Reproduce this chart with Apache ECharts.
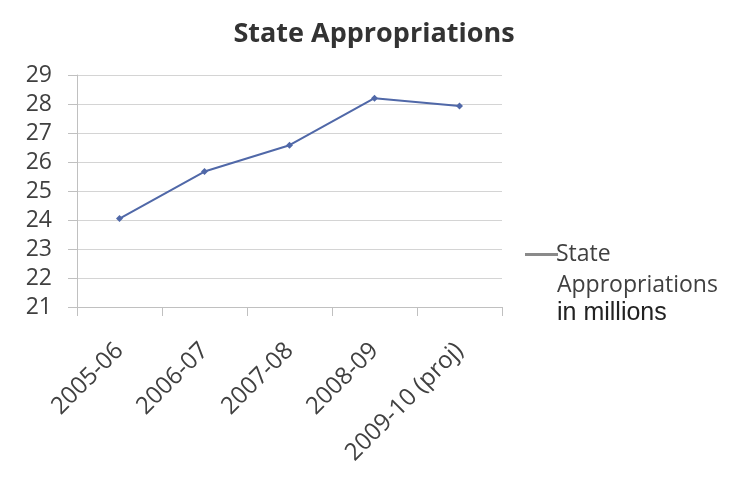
<!DOCTYPE html>
<html><head><meta charset="utf-8">
<script src="https://cdn.jsdelivr.net/npm/echarts@6/dist/echarts.min.js"></script>
<style>html,body{margin:0;padding:0;background:#fff}#c{width:736px;height:477px}</style>
</head><body><div id="c"></div>
<script>
const categories = ['2005-06', '2006-07', '2007-08', '2008-09', '2009-10 (proj)'];
const values = [24.05, 25.67, 26.58, 28.2, 27.93];
const seriesName = 'State Appropriations in millions';
const yTicks = [21, 29, 1];

const FONT = 'Open Sans';
const chart = echarts.init(document.getElementById('c'));
chart.setOption({
  animation: false,
  backgroundColor: '#ffffff',
  title: {
    text: 'State Appropriations',
    left: 369, top: 16, textAlign: 'center',
    textStyle: {fontFamily: FONT, fontWeight: 'bold', fontSize: 27, color: '#333333'}
  },
  grid: {left: 77, right: 234, top: 75, bottom: 170},
  legend: {
    data: [seriesName],
    left: 520, top: 238,
    itemWidth: 33, itemHeight: 20, itemGap: 0,
    icon: 'path://M0,9 L33,9 L33,12 L0,12 Z',
    itemStyle: {color: '#8a8a8a'},
    formatter: function () { return 'State'; },
    textStyle: {fontFamily: FONT, fontSize: 23, color: '#404040', padding: [0, 0, 0, -7]}
  },
  graphic: [
    {type: 'text', left: 557, top: 274, style: {text: 'Appropriations', font: '23px "Open Sans"', fill: '#404040'}},
    {type: 'text', left: 557, top: 301, style: {text: 'in millions', font: '25px "Liberation Sans"', fill: '#222222'}}
  ],
  xAxis: {
    type: 'category', data: categories, boundaryGap: true,
    axisLine: {lineStyle: {color: '#c0c0c0', width: 1}},
    axisTick: {show: true, length: 9, lineStyle: {color: '#c0c0c0'}},
    axisLabel: {rotate: 45, margin: 40, fontFamily: FONT, fontSize: 24, color: '#404040', interval: 0},
    splitLine: {show: false}
  },
  yAxis: {
    type: 'value', min: yTicks[0], max: yTicks[1], interval: yTicks[2],
    axisLine: {show: true, lineStyle: {color: '#c0c0c0'}},
    axisTick: {show: true, length: 9, inside: false, lineStyle: {color: '#c0c0c0'}},
    axisLabel: {margin: 25, fontFamily: FONT, fontSize: 23, color: '#404040'},
    splitLine: {show: true, lineStyle: {color: '#d4d4d4', width: 1}}
  },
  series: [{
    name: seriesName, type: 'line', data: values,
    symbol: 'diamond', symbolSize: 7,
    lineStyle: {color: '#5068a8', width: 2},
    itemStyle: {color: '#5068a8'}
  }]
});
</script></body></html>
